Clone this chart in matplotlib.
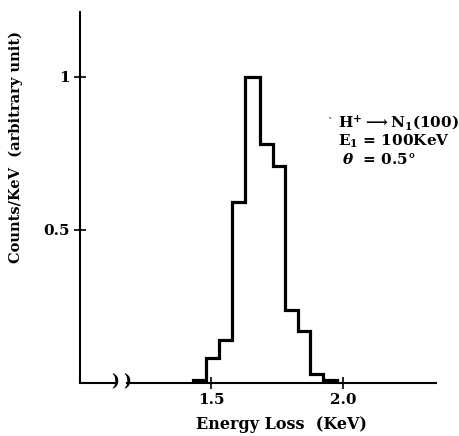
import matplotlib.pyplot as plt

# histogram
bin_edges = [1.43, 1.48, 1.53, 1.58, 1.63, 1.685, 1.735, 1.78, 1.83, 1.875, 1.925, 1.975]
counts = [0.01, 0.08, 0.14, 0.59, 1.0, 0.78, 0.71, 0.24, 0.17, 0.03, 0.01]

x_ticks = [1.5, 2.0]
x_tick_labels = ["1.5", "2.0"]
y_ticks = [0.5, 1.0]
y_tick_labels = ["0.5", "1"]

annotation_lines = [
    r"H$^{\mathbf{+}}$$\longrightarrow$N$_{\mathbf{1}}$(100)",
    r"E$_{\mathbf{1}}$ = 100KeV",
    r"$\theta$  = 0.5°",
]
annotation_x = [1.981, 1.981, 1.996]
annotation_y = [0.85, 0.788, 0.73]

plt.rcParams["font.family"] = ["DejaVu Serif"]
plt.rcParams["font.weight"] = "bold"
plt.rcParams["axes.labelweight"] = "bold"
plt.rcParams["mathtext.fontset"] = "dejavuserif"

fig = plt.figure(figsize=(4.6, 4.36), dpi=100)
ax = fig.add_axes([0.174, 0.1216, 0.774, 0.851])

ax.stairs(counts, bin_edges, color="black", linewidth=2.3)

ax.set_xlim(1.004, 2.352)
ax.set_ylim(0, 1.212)

# axis lines drawn by hand so the x axis can be broken
for side in ["top", "right", "bottom"]:
    ax.spines[side].set_visible(False)
ax.spines["left"].set_linewidth(1.5)

break_left, break_right = 1.138, 1.182
ax.plot([1.004, break_left], [0, 0], color="black", lw=1.5, clip_on=False)
ax.plot([break_right, 2.352], [0, 0], color="black", lw=1.5, clip_on=False)
for xb in (break_left, break_right):
    ax.text(xb, 0.003, ")", ha="center", va="center", fontsize=12,
            fontweight="bold", clip_on=False)

ax.set_xticks(x_ticks)
ax.set_xticklabels(x_tick_labels)
ax.set_yticks(y_ticks)
ax.set_yticklabels(y_tick_labels)
ax.tick_params(direction="inout", length=9, width=1.2, labelsize=11, pad=3)

ax.set_xlabel("Energy Loss  (KeV)", fontsize=11.5)
ax.set_ylabel("Counts/KeV  (arbitrary unit)", fontsize=10.5)
ax.xaxis.set_label_coords(0.567, -0.088)
ax.yaxis.set_label_coords(-0.16, 0.636)

for x, y, line in zip(annotation_x, annotation_y, annotation_lines):
    ax.text(x, y, line, fontsize=11, va="center", ha="left")
ax.text(1.939, 0.85, "`", fontsize=8, va="center", ha="left", fontweight="normal")

fig.savefig("out.png", dpi=100)
